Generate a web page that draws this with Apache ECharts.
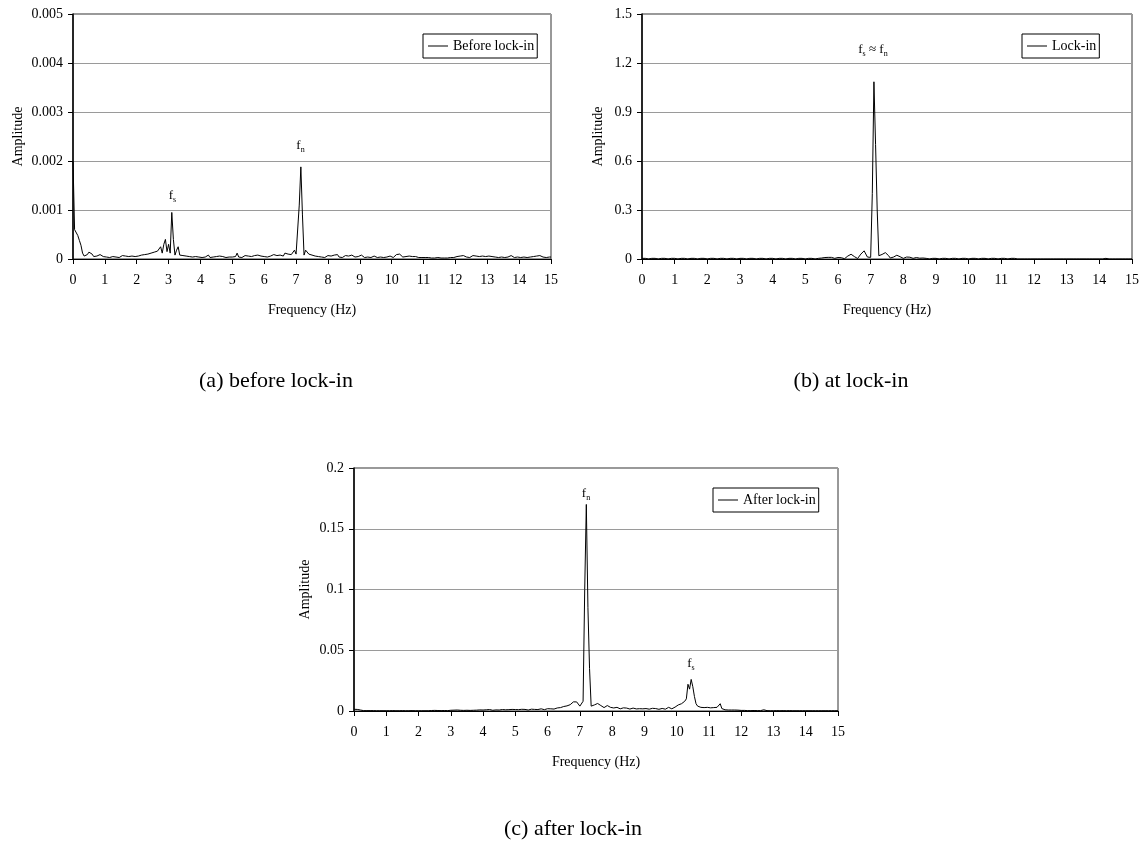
<!DOCTYPE html>
<html><head><meta charset="utf-8">
<script src="https://cdn.jsdelivr.net/npm/echarts@6/dist/echarts.min.js"></script>
<style>html,body{margin:0;padding:0;background:#fff}#c{width:1146px;height:853px}</style>
</head><body><div id="c"></div>
<script>
// Frequency bins (Hz): uniform FFT resolution
const FREQ_STEP = 0.05;
const FREQ_MAX = 15;
const xTickStep = 1;

// (a) Before lock-in amplitudes, 0..15 Hz every 0.05 Hz
const ampBefore = [
200e-5,60e-5,57e-5,48e-5,38e-5,28e-5,12e-5,6e-5,4e-5,9e-5,14e-5,16e-5,10e-5,5e-5,3e-5,6e-5,4e-5,9e-5,7e-5,5e-5,
8e-5,4e-5,6e-5,3e-5,7e-5,5e-5,9e-5,4e-5,6e-5,3e-5,5e-5,7e-5,4e-5,6e-5,3e-5,5e-5,4e-5,6e-5,3e-5,5e-5,
3e-5,6e-5,4e-5,8e-5,5e-5,9e-5,6e-5,10e-5,7e-5,12e-5,8e-5,14e-5,10e-5,16e-5,14e-5,25e-5,12e-5,30e-5,40e-5,15e-5,
30e-5,12e-5,95e-5,40e-5,8e-5,18e-5,25e-5,8e-5,12e-5,7e-5,10e-5,6e-5,9e-5,5e-5,8e-5,4e-5,7e-5,5e-5,8e-5,4e-5,
6e-5,3e-5,7e-5,4e-5,5e-5,8e-5,3e-5,6e-5,4e-5,7e-5,5e-5,3e-5,6e-5,4e-5,5e-5,7e-5,3e-5,5e-5,4e-5,6e-5,
4e-5,7e-5,5e-5,12e-5,4e-5,6e-5,3e-5,5e-5,7e-5,4e-5,6e-5,3e-5,5e-5,4e-5,7e-5,5e-5,8e-5,4e-5,6e-5,9e-5,
5e-5,7e-5,4e-5,8e-5,6e-5,5e-5,9e-5,6e-5,7e-5,4e-5,8e-5,10e-5,6e-5,12e-5,8e-5,10e-5,14e-5,9e-5,12e-5,18e-5,
10e-5,14e-5,110e-5,188e-5,90e-5,8e-5,18e-5,20e-5,10e-5,14e-5,8e-5,11e-5,6e-5,9e-5,5e-5,8e-5,4e-5,6e-5,3e-5,5e-5,
7e-5,4e-5,6e-5,3e-5,8e-5,5e-5,9e-5,4e-5,6e-5,3e-5,5e-5,7e-5,4e-5,6e-5,3e-5,8e-5,5e-5,4e-5,7e-5,5e-5,
4e-5,8e-5,6e-5,3e-5,5e-5,4e-5,7e-5,3e-5,5e-5,6e-5,4e-5,3e-5,5e-5,4e-5,6e-5,3e-5,5e-5,4e-5,3e-5,6e-5,
4e-5,3e-5,6e-5,9e-5,5e-5,10e-5,7e-5,4e-5,8e-5,5e-5,3e-5,6e-5,4e-5,5e-5,3e-5,5e-5,4e-5,3e-5,2e-5,3e-5,
4e-5,3e-5,2e-5,3e-5,2e-5,2e-5,3e-5,2e-5,2e-5,3e-5,2e-5,2e-5,3e-5,2e-5,3e-5,2e-5,2e-5,3e-5,2e-5,3e-5,
3e-5,5e-5,4e-5,6e-5,3e-5,7e-5,5e-5,4e-5,6e-5,3e-5,5e-5,7e-5,4e-5,6e-5,3e-5,5e-5,4e-5,6e-5,3e-5,5e-5,
4e-5,6e-5,3e-5,5e-5,7e-5,4e-5,5e-5,3e-5,6e-5,4e-5,5e-5,3e-5,6e-5,4e-5,5e-5,7e-5,4e-5,3e-5,5e-5,4e-5,
5e-5,3e-5,6e-5,4e-5,5e-5,3e-5,6e-5,4e-5,7e-5,5e-5,8e-5,6e-5,4e-5,7e-5,5e-5,4e-5,6e-5,3e-5,5e-5,4e-5,
4e-5
];

// (b) Lock-in amplitudes, 0..15 Hz every 0.05 Hz
const ampLockIn = [
0.004,0.004,0.004,0.004,0,0,0.004,0.004,0.004,0.004,0,0,0.004,0.004,0.004,0.004,0,0,0.004,0.004,
0.004,0.004,0,0,0.004,0.004,0.004,0.004,0,0,0.004,0.004,0.004,0.004,0,0,0.004,0.004,0.004,0.004,
0,0,0.004,0.004,0.004,0.004,0,0,0.004,0.004,0.004,0.004,0,0,0.004,0.004,0.004,0.004,0,0,
0.004,0.004,0.004,0.004,0,0,0.004,0.004,0.004,0.004,0,0,0.004,0.004,0.004,0.004,0,0,0.004,0.004,
0.004,0.004,0,0,0.004,0.004,0.004,0.004,0,0,0.004,0.004,0.004,0.004,0,0,0.004,0.004,0.004,0.004,
0,0,0.004,0.004,0.004,0.004,0,0,0.004,0.004,0.006,0.008,0.009,0.008,0.010,0.012,0.010,0.006,0.004,0.006,
0.009,0.010,0.008,0.004,0.002,0.008,0.018,0.026,0.029,0.025,0.015,0.005,0.003,0.015,0.030,0.042,0.050,0.040,0.012,0,
0.010,0.400,1.085,0.700,0.300,0.020,0.010,0.028,0.036,0.039,0.034,0.020,0.006,0.004,0.012,0.020,0.023,0.021,0.014,0.006,
0.004,0.008,0.012,0.013,0.011,0.006,0.004,0.007,0.009,0.008,0.005,0.004,0.006,0.006,0.004,0,0,0.004,0.004,0.004,
0.004,0,0,0.004,0.004,0.004,0.004,0,0,0.004,0.004,0.004,0.004,0,0,0.004,0.004,0.004,0.004,0,
0,0.004,0.004,0.004,0.004,0,0,0.004,0.004,0.004,0.004,0,0,0.004,0.004,0.004,0.004,0,0,0.004,
0.004,0.004,0.004,0,0,0.004,0.004,0.004,0.004,0,0,0.004,0,0,0,0,0,0,0,0,
0,0,0,0,0,0,0,0,0,0,0,0,0,0,0,0,0,0,0,0,
0,0,0,0,0,0,0,0,0,0,0,0,0,0,0,0,0,0,0,0,
0,0,0,0,0.004,0.004,0,0,0,0,0,0,0,0,0,0,0,0,0,0,
0
];

// (c) After lock-in amplitudes, 0..15 Hz every 0.05 Hz
const ampAfter = [
0.0014,0.0014,0.0013,0.0012,0.0008,0.0004,0.0003,0.0002,0.0003,0.0002,0.0003,0.0002,0.0003,0.0002,0.0002,0.0003,0.0002,0.0003,0.0002,0.0002,
0.0002,0.0003,0.0002,0.0002,0.0003,0.0002,0.0002,0.0003,0.0002,0.0002,0.0003,0.0002,0.0002,0.0003,0.0002,0.0002,0.0003,0.0002,0.0002,0.0003,
0.0002,0.0003,0.0002,0.0003,0.0002,0.0003,0.0002,0.0003,0.0004,0.0003,0.0005,0.0003,0.0004,0.0006,0.0003,0.0005,0.0004,0.0006,0.0003,0.0005,
0.0006,0.0004,0.0007,0.0005,0.0008,0.0004,0.0006,0.0009,0.0005,0.0007,0.0006,0.0010,0.0005,0.0008,0.0006,0.0004,0.0007,0.0005,0.0009,0.0006,
0.0008,0.0005,0.0010,0.0007,0.0012,0.0008,0.0006,0.0011,0.0009,0.0014,0.0008,0.0010,0.0012,0.0016,0.0010,0.0008,0.0011,0.0009,0.0013,0.0010,
0.0012,0.0016,0.0011,0.0009,0.0014,0.0010,0.0013,0.0011,0.0008,0.0012,0.0015,0.0011,0.0013,0.0016,0.0012,0.0014,0.0018,0.0013,0.0011,0.0015,
0.0019,0.0024,0.0018,0.0021,0.0016,0.0022,0.0025,0.0019,0.0028,0.0023,0.0037,0.0029,0.0042,0.0031,0.0052,0.0064,0.0075,0.0070,0.0075,0.0060,
0.0040,0.0030,0.0080,0.1000,0.1700,0.0850,0.0350,0.0040,0.0045,0.0050,0.0040,0.0062,0.0058,0.0045,0.0035,0.0028,0.0038,0.0045,0.0040,0.0030,
0.0022,0.0025,0.0032,0.0030,0.0022,0.0018,0.0020,0.0026,0.0030,0.0024,0.0018,0.0016,0.0020,0.0024,0.0021,0.0017,0.0015,0.0019,0.0022,0.0018,
0.0016,0.0020,0.0018,0.0015,0.0017,0.0022,0.0026,0.0020,0.0016,0.0014,0.0018,0.0021,0.0017,0.0015,0.0024,0.0030,0.0022,0.0018,0.0026,0.0032,
0.0040,0.0050,0.0045,0.0060,0.0055,0.0080,0.0100,0.0220,0.0180,0.0260,0.0200,0.0120,0.0060,0.0040,0.0035,0.0030,0.0038,0.0028,0.0035,0.0030,
0.0032,0.0026,0.0020,0.0028,0.0022,0.0030,0.0025,0.0060,0.0020,0.0012,0.0010,0.0009,0.0008,0.0010,0.0008,0.0007,0.0008,0.0006,0.0007,0.0006,
0.0005,0.0004,0.0005,0.0004,0.0003,0.0004,0.0003,0.0003,0.0004,0.0003,0.0003,0.0002,0.0003,0.0002,0.0010,0.0002,0.0003,0.0002,0.0002,0.0003,
0.0002,0.0002,0.0003,0.0002,0.0002,0.0002,0.0003,0.0002,0.0002,0.0002,0.0003,0.0002,0.0002,0.0002,0.0002,0.0003,0.0002,0.0002,0.0002,0.0002,
0.0002,0.0002,0.0002,0.0002,0.0002,0.0002,0.0002,0.0002,0.0002,0.0002,0.0002,0.0002,0.0002,0.0002,0.0002,0.0002,0.0002,0.0002,0.0002,0.0002,
0.0002
];

const seriesNames = ['Before lock-in', 'Lock-in', 'After lock-in'];
const captions = ['(a) before lock-in', '(b) at lock-in', '(c) after lock-in'];
const yMaxes = [0.005, 1.5, 0.2];
const yIntervals = [0.001, 0.3, 0.05];
const xAxisTitle = 'Frequency (Hz)';
const yAxisTitle = 'Amplitude';

// Peak annotations: [chart index, frequency, amplitude, label]
const peakNotes = [
  [0, 3.12, 0.00095, '{i|f}{s|s}'],
  [0, 7.14, 0.00188, '{i|f}{s|n}'],
  [1, 7.07, 1.085, '{i|f}{s|s}{i| ≈ f}{s|n}'],
  [2, 7.19, 0.170, '{i|f}{s|n}'],
  [2, 10.44, 0.026, '{i|f}{s|s}']
];
const noteGaps = [9, 13, 24, 3, 8];

const FONT = '"Liberation Serif", "Times New Roman", serif';
const allAmps = [ampBefore, ampLockIn, ampAfter];

function toPairs(arr) {
  return arr.map((v, i) => [+(i * FREQ_STEP).toFixed(2), v]);
}

const grids = [
  { left: 73, top: 14, width: 478, height: 245 },
  { left: 642, top: 14, width: 490, height: 245 },
  { left: 354, top: 468, width: 484, height: 243 }
];
const yNameGaps = [48, 37, 42];
const legendPos = [
  { left: 423, top: 34 },
  { left: 1022, top: 34 },
  { left: 713, top: 488 }
];
const captionPos = [[276, 381], [851, 381], [573, 829]];

const richStyle = {
  i: { fontFamily: FONT, fontSize: 13, color: '#000', lineHeight: 16 },
  s: { fontFamily: FONT, fontSize: 8, color: '#000', lineHeight: 9, verticalAlign: 'bottom' }
};

const option = {
  animation: false,
  backgroundColor: '#fff',
  grid: grids.map(g => Object.assign({ show: true, borderColor: '#333', borderWidth: 1, containLabel: false }, g)),
  xAxis: grids.map((g, i) => ({
    type: 'value', gridIndex: i, min: 0, max: FREQ_MAX, interval: xTickStep,
    axisLine: { show: true, onZero: false, lineStyle: { color: '#000', width: 1 } },
    axisTick: { show: true, inside: false, length: 5, lineStyle: { color: '#000' } },
    axisLabel: { color: '#000', fontFamily: FONT, fontSize: 14, margin: 14, hideOverlap: false, showMinLabel: true, showMaxLabel: true },
    splitLine: { show: false },
    name: xAxisTitle, nameLocation: 'middle', nameGap: 44,
    nameTextStyle: { color: '#000', fontFamily: FONT, fontSize: 14 }
  })),
  yAxis: grids.map((g, i) => ({
    type: 'value', gridIndex: i, min: 0, max: yMaxes[i], interval: yIntervals[i],
    axisLine: { show: true, onZero: false, lineStyle: { color: '#000', width: 1.5 } },
    axisTick: { show: true, inside: false, length: 5, lineStyle: { color: '#000' } },
    axisLabel: { color: '#000', fontFamily: FONT, fontSize: 14, margin: 10, showMinLabel: true, showMaxLabel: true },
    splitLine: { show: true, lineStyle: { color: '#9a9a9a', width: 1 } },
    name: yAxisTitle, nameLocation: 'middle', nameGap: yNameGaps[i],
    nameTextStyle: { color: '#000', fontFamily: FONT, fontSize: 14 }
  })),
  legend: legendPos.map((p, i) => ({
    data: [seriesNames[i]], left: p.left, top: p.top, orient: 'horizontal',
    icon: 'rect', itemWidth: 20, itemHeight: 1,
    borderColor: '#000', borderWidth: 1, padding: [4, 3, 4, 5],
    selectedMode: false,
    textStyle: { color: '#000', fontFamily: FONT, fontSize: 14, lineHeight: 16 }
  })),
  series: allAmps.map((amps, i) => ({
    type: 'line', name: seriesNames[i], xAxisIndex: i, yAxisIndex: i,
    data: toPairs(amps), symbol: 'none', showSymbol: false,
    lineStyle: { color: '#000', width: 1 }, itemStyle: { color: '#000' },
    markPoint: {
      symbol: 'circle', symbolSize: 0, silent: true,
      itemStyle: { color: 'rgba(0,0,0,0)' },
      label: { show: true, position: 'top', color: '#000', rich: richStyle },
      data: peakNotes.map((n, k) => ({ n, k })).filter(o => o.n[0] === i).map(o => ({
        coord: [o.n[1], o.n[2]],
        label: { show: true, position: 'top', distance: noteGaps[o.k], formatter: o.n[3], rich: richStyle }
      }))
    }
  })),
  graphic: captions.map((t, i) => ({
    type: 'text', x: captionPos[i][0], y: captionPos[i][1], silent: true,
    style: { text: t, fill: '#000', font: '22px ' + FONT, align: 'center', verticalAlign: 'middle', textAlign: 'center', textVerticalAlign: 'middle' }
  }))
};

const chart = echarts.init(document.getElementById('c'), null, { renderer: 'canvas' });
chart.setOption(option);
</script>
</body></html>
